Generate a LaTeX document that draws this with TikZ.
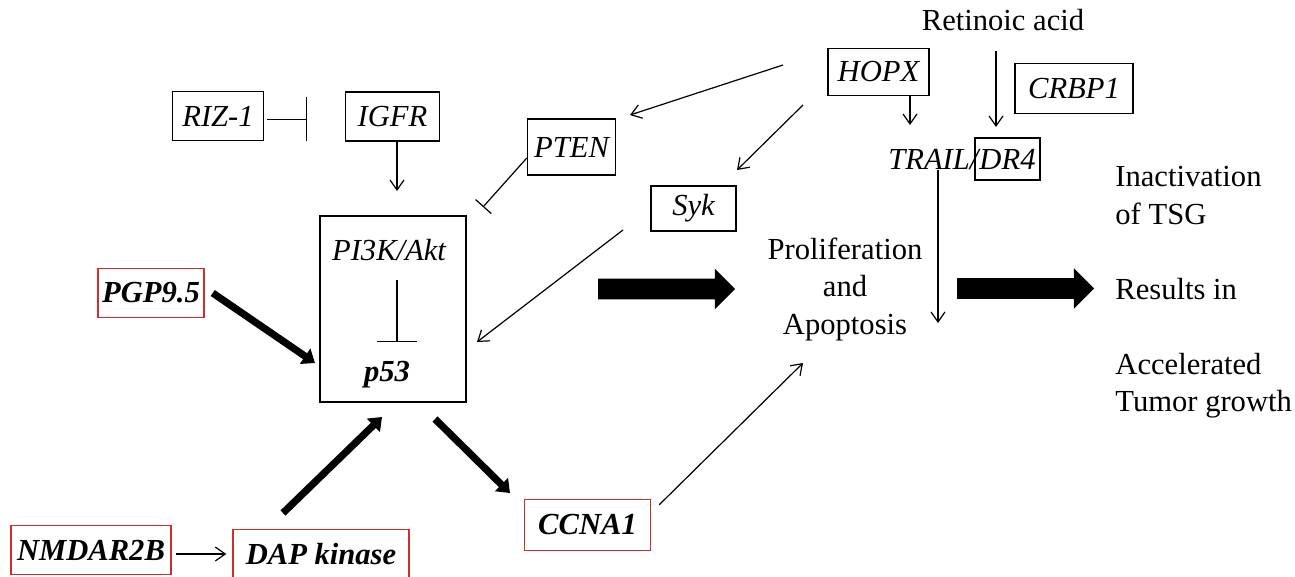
\documentclass[tikz,border=0pt]{standalone}
\usepackage{fontspec}
\setmainfont{Liberation Serif}
\usetikzlibrary{arrows.meta, shapes.arrows, positioning, calc}
\definecolor{boxred}{RGB}{210,45,45}

\begin{document}
\fontsize{15.3}{18.75}\selectfont
\begin{tikzpicture}[x=0.5pt, y=-0.5pt,
  gene/.style={rectangle, draw, line width=0.7pt, inner sep=0, minimum height=24.5pt, font=\itshape},
  redgene/.style={gene, draw=boxred, font=\bfseries\itshape},
  arr/.style={line width=0.6pt, -{Straight Barb[length=5pt, width=7pt]}},
  inh/.style={line width=0.6pt, -{Bar[width=#1]}},
  fat/.style={line width=3.6pt, -{Triangle[length=6pt, width=9pt]}},
  block/.style={single arrow, fill=black, inner xsep=0, inner ysep=5pt, minimum height=68.5pt, minimum width=20pt, single arrow head extend=5pt, single arrow tip angle=90}]

\useasboundingbox (0,0) rectangle (1295,577);

\node[gene, minimum width=45.5pt] (riz) at (218,116) {RIZ-1};
\node[gene, minimum width=47pt] (igfr) at (392.5,116.5) {IGFR};
\node[gene, minimum width=44pt, minimum height=28pt] (pten) at (571.5,147) {PTEN};
\node[gene, minimum width=42.5pt, minimum height=22.5pt] (syk) at (693.5,208.5) {Syk};
\node[gene, minimum width=50.5pt, minimum height=23.5pt] (hopx) at (878.5,72) {HOPX};
\node[gene, minimum width=59pt, minimum height=25pt] (crbp) at (1074,88.5) {CRBP1};
\node[gene, minimum width=32.5pt, minimum height=21pt] (dr4) at (1007.5,159) {DR4};
\node[font=\itshape, inner sep=0, anchor=base east] (trail) at ([xshift=2.25pt]dr4.base west) {TRAIL/};
\node (ra) at (1003,20) {Retinoic acid};

\node[gene, minimum width=73pt, minimum height=93pt] (core) at (393,309) {};
\node[font=\itshape] (pik) at (389,250) {PI3K/Akt};
\node[font=\bfseries\itshape] (p53) at (387,375) {p53};

\node[redgene, minimum width=53pt] (pgp) at (151,293) {PGP9.5};
\node[redgene, minimum width=80pt] (nmdar) at (91,550) {NMDAR2B};
\node[redgene, minimum width=88pt] (dap) at (321,554) {DAP kinase};
\node[redgene, minimum width=63pt, minimum height=25.5pt] (ccna) at (587.5,525) {CCNA1};

\node[align=center] (prolif) at (845,289) {Proliferation\\and\\Apoptosis};
\node[align=left, inner sep=0, anchor=north west] (tsg) at (1115,166) {Inactivation\\of TSG\\[18.75pt]Results in\\[18.75pt]Accelerated\\Tumor growth};

\node[block] (arrA) at (661.5,289) {};
\node[block] (arrB) at (1020.5,288.5) {};

\coordinate (rizbar) at (307,119.5);
\coordinate (igfrtip) at (397,191);
\coordinate (ptenbar) at (483,207);
\coordinate (hopxleft) at (783,65);
\coordinate (ptentip) at (630,115);
\coordinate (hopxlow) at (803,105);
\coordinate (syktip) at (737,170);
\coordinate (trailtip) at (910,125);
\coordinate (ratip) at (996,127);
\coordinate (traildown) at (938,323);
\coordinate (syktail) at (623,230);
\coordinate (coresyk) at (477,342);
\coordinate (corebar) at (397,342);
\coordinate (corepgp) at (315,363);
\coordinate (daptail) at (283,513);
\coordinate (coredap) at (382,417);
\coordinate (coretail) at (435,419);
\coordinate (ccnatip) at (510,493);
\coordinate (proliftip) at (803,363);

\draw[inh=22pt, shorten <=1.5pt] (riz.east |- rizbar) -- (rizbar);
\draw[arr] (igfr.south -| igfrtip) -- (igfrtip);
\draw[inh=10.5pt] ([yshift=-5.5pt]pten.west) -- (ptenbar);
\draw[arr] (hopxleft) -- (ptentip);
\draw[arr] (hopxlow) -- (syktip);
\draw[arr] (hopx.south -| trailtip) -- (trailtip);
\draw[arr, shorten <=5pt] (ra.south -| ratip) -- (ratip);
\draw[arr] (trail.south -| traildown) -- (traildown);
\draw[arr] (syktail) -- (coresyk);
\draw[inh=20pt] ([xshift=4pt, yshift=-15pt]pik.center) -- (corebar);
\draw[fat] ([xshift=4pt]pgp.east) -- (corepgp);
\draw[fat] (daptail) -- (coredap);
\draw[fat] (coretail) -- (ccnatip);
\draw[arr] ([xshift=4pt, yshift=-3pt]ccna.north east) -- (proliftip);
\draw[arr, shorten <=2pt, shorten >=3pt] (nmdar.east |- dap.west) -- (dap.west);
\end{tikzpicture}
\end{document}
